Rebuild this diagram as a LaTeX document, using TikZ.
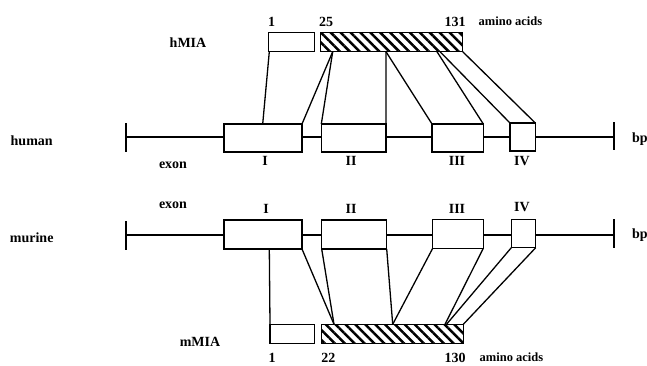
\documentclass[tikz,border=0pt]{standalone}
\usepackage{fontspec}
\setmainfont{Liberation Serif}
\usetikzlibrary{patterns.meta,calc}
\begin{document}
\begin{tikzpicture}[x=1pt,y=-1pt,
  ln/.style={line width=1.3pt},
  box/.style={draw,line width=1.3pt,fill=white,inner sep=0pt,outer sep=0pt,anchor=north west},
  hatch/.style={box,pattern={Lines[angle=-45,distance=7pt,line width=2.5pt]}},
  lbl/.style={font=\bfseries\fontsize{14}{16}\selectfont,inner sep=0pt},
  aa/.style={font=\bfseries\fontsize{12.5}{14}\selectfont,inner sep=0pt}]
\useasboundingbox (0,0) rectangle (647,365);
% human gene
\coordinate (hL) at (126,137);
\coordinate (hR) at (614,137);
\node[box,minimum width=78pt,minimum height=28pt] (hI) at (224,124) {};
\node[box,minimum width=64.7pt,minimum height=28pt] (hII) at (321.3,124) {};
\node[box,minimum width=51.3pt,minimum height=28pt] (hIII) at (432,124) {};
\node[box,minimum width=25.3pt,minimum height=28pt] (hIV) at (510,123) {};
\draw[ln] ($(hL)+(0,-14)$) -- ($(hL)+(0,15)$);
\draw[ln] ($(hR)+(0,-15)$) -- ($(hR)+(0,13)$);
\draw[ln] (hL) -- (hI.west|-hL);
\draw[ln] (hI.east|-hL) -- (hII.west|-hL);
\draw[ln] (hII.east|-hL) -- (hIII.west|-hL);
\draw[ln] (hIII.east|-hL) -- (hIV.west|-hL);
\draw[ln] (hIV.east|-hL) -- (hR);
% human protein
\node[box,minimum width=46pt,minimum height=19.4pt] (hs) at (268.3,32.3) {};
\node[hatch,minimum width=142pt,minimum height=19.4pt] (hh) at (320.7,32.3) {};
\coordinate (ha) at (332.7,51.7);
\coordinate (hb) at (386,51.7);
\coordinate (hc) at (437,51.7);
\coordinate (hd) at (440,51.7);
\draw[ln] ($(hs.south west)+(1,0)$) -- ($(hI.north west)+(38.7,0)$);
\draw[ln] (ha) -- (hI.north east);
\draw[ln] (ha) -- (hII.north west);
\draw[ln] (hb) -- (hII.north east);
\draw[ln] (hb) -- (hIII.north west);
\draw[ln] (hc) -- (hIII.north east);
\draw[ln] (hd) -- (hIV.north west);
\draw[ln] (hh.south east) -- (hIV.north east);
% murine gene
\coordinate (mL) at (126,235);
\coordinate (mR) at (614,235);
\node[box,minimum width=78pt,minimum height=29pt] (mI) at (224,220) {};
\node[box,minimum width=65pt,minimum height=29pt] (mII) at (321.7,220) {};
\node[box,minimum width=50.6pt,minimum height=29pt] (mIII) at (432.7,219.3) {};
\node[box,minimum width=24.4pt,minimum height=28.4pt] (mIV) at (511.3,219.3) {};
\draw[ln] ($(mL)+(0,-14)$) -- ($(mL)+(0,15)$);
\draw[ln] ($(mR)+(0,-16)$) -- ($(mR)+(0,13)$);
\draw[ln] (mL) -- (mI.west|-mL);
\draw[ln] (mI.east|-mL) -- (mII.west|-mL);
\draw[ln] (mII.east|-mL) -- (mIII.west|-mL);
\draw[ln] (mIII.east|-mL) -- (mIV.west|-mL);
\draw[ln] (mIV.east|-mL) -- (mR);
% murine protein
\node[box,minimum width=44.7pt,minimum height=19pt] (ms) at (270,324.3) {};
\node[hatch,minimum width=141.6pt,minimum height=19pt] (mh) at (321.7,324.3) {};
\coordinate (ma) at (334,324.3);
\coordinate (mb) at (392.7,324.3);
\coordinate (mc) at (445,324.3);
\coordinate (md) at (446.5,324.3);
\draw[ln] ($(mI.south west)+(45.3,0)$) -- (ms.north west);
\draw[ln] (mI.south east) -- (ma);
\draw[ln] (mII.south west) -- (ma);
\draw[ln] (mII.south east) -- (mb);
\draw[ln] (mIII.south west) -- (mb);
\draw[ln] (mIII.south east) -- (mc);
\draw[ln] (mIV.south west) -- (md);
\draw[ln] (mIV.south east) -- (mh.north east);
% labels
\node[lbl] (thMIA) at (188,43) {hMIA};
\node[lbl] (t1h) at (271.7,21.5) {1};
\node[lbl] (t25) at (326,21.5) {25};
\node[lbl] (t131) at (455,21.5) {131};
\node[aa] (taah) at (510.5,21.5) {amino acids};
\node[lbl] (thuman) at (31.7,140.5) {human};
\node[lbl] (tmurine) at (31.7,237.3) {murine};
\node[lbl,anchor=west] (tbph) at (632,139) {bp};
\node[lbl,anchor=west] (tbpm) at (632,235) {bp};
\node[lbl] (texh) at (173,165) {exon};
\node[lbl] (tIh) at (265,161) {I};
\node[lbl] (tIIh) at (351,161) {II};
\node[lbl] (tIIIh) at (457,161) {III};
\node[lbl] (tIVh) at (522,161.5) {IV};
\node[lbl] (texm) at (173,205) {exon};
\node[lbl] (tIm) at (266,209) {I};
\node[lbl] (tIIm) at (351,209) {II};
\node[lbl] (tIIIm) at (457,209) {III};
\node[lbl] (tIVm) at (522,207.5) {IV};
\node[lbl] (tmMIA) at (200,341.5) {mMIA};
\node[lbl] (t1m) at (272,357.5) {1};
\node[lbl] (t22) at (328.3,357.5) {22};
\node[lbl] (t130) at (455,357.5) {130};
\node[aa] (taam) at (511.5,357.5) {amino acids};
\end{tikzpicture}
\end{document}
